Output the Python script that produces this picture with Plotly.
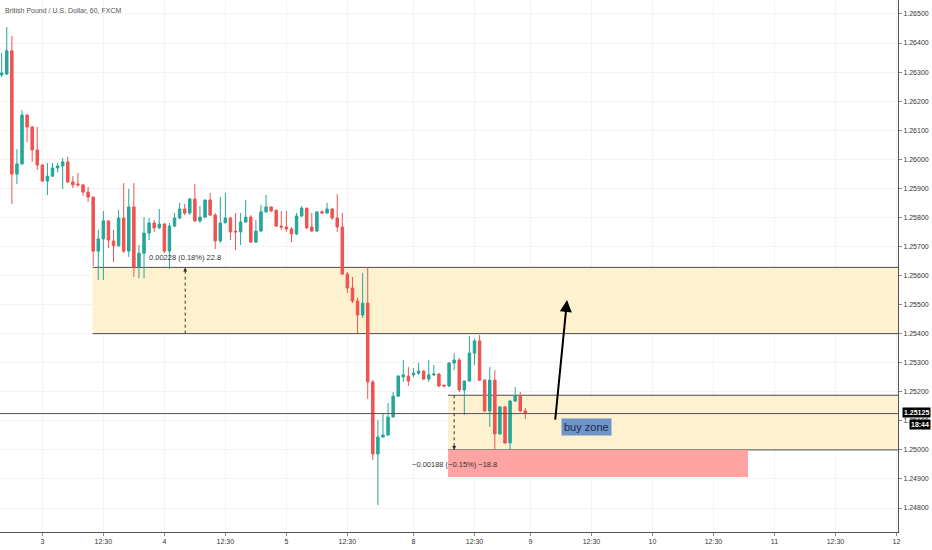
import plotly.graph_objects as go

# GBP/USD, 1h candles (FXCM)
opens = [1.26290, 1.26293, 1.26373, 1.25949, 1.25984, 1.26152, 1.26111, 1.26032, 1.25980, 1.25925,
         1.25942, 1.25970, 1.25977, 1.25991, 1.25922, 1.25915, 1.25912, 1.25887, 1.25870, 1.25684,
         1.25726, 1.25788, 1.25719, 1.25702, 1.25798, 1.25684, 1.25836, 1.25629, 1.25677, 1.25746,
         1.25781, 1.25764, 1.25777, 1.25684, 1.25770, 1.25798, 1.25829, 1.25815, 1.25863, 1.25788,
         1.25801, 1.25860, 1.25808, 1.25719, 1.25781, 1.25798, 1.25753, 1.25750, 1.25784, 1.25801,
         1.25715, 1.25753, 1.25819, 1.25836, 1.25825, 1.25770, 1.25767, 1.25760, 1.25743, 1.25805,
         1.25832, 1.25767, 1.25753, 1.25819, 1.25815, 1.25829, 1.25798, 1.25767, 1.25605, 1.25557,
         1.25512, 1.25464, 1.25505, 1.25234, 1.24986, 1.25044, 1.25051, 1.25113, 1.25185, 1.25251,
         1.25254, 1.25258, 1.25264, 1.25271, 1.25244, 1.25258, 1.25261, 1.25223, 1.25220, 1.25299,
         1.25309, 1.25206, 1.25237, 1.25333, 1.25375, 1.25240, 1.25134, 1.25240, 1.25055, 1.25148,
         1.25024, 1.25168, 1.25185, 1.25134]
highs = [1.26366, 1.26455, 1.26424, 1.26035, 1.26169, 1.26155, 1.26115, 1.26111, 1.25984, 1.25987,
         1.25987, 1.25987, 1.26004, 1.26008, 1.25942, 1.25953, 1.25912, 1.25905, 1.25870, 1.25757,
         1.25822, 1.25788, 1.25757, 1.25826, 1.25918, 1.25898, 1.25918, 1.25705, 1.25801, 1.25798,
         1.25791, 1.25829, 1.25781, 1.25781, 1.25815, 1.25850, 1.25846, 1.25867, 1.25915, 1.25839,
         1.25860, 1.25884, 1.25815, 1.25870, 1.25884, 1.25801, 1.25815, 1.25815, 1.25860, 1.25808,
         1.25791, 1.25843, 1.25877, 1.25836, 1.25825, 1.25822, 1.25822, 1.25767, 1.25815, 1.25839,
         1.25832, 1.25815, 1.25819, 1.25825, 1.25850, 1.25832, 1.25880, 1.25815, 1.25612, 1.25595,
         1.25523, 1.25609, 1.25629, 1.25240, 1.25103, 1.25127, 1.25161, 1.25199, 1.25258, 1.25309,
         1.25285, 1.25282, 1.25299, 1.25275, 1.25309, 1.25292, 1.25264, 1.25223, 1.25302, 1.25333,
         1.25316, 1.25237, 1.25392, 1.25382, 1.25395, 1.25244, 1.25285, 1.25275, 1.25151, 1.25151,
         1.25172, 1.25216, 1.25199, 1.25144]
lows = [1.26283, 1.26290, 1.25846, 1.25915, 1.25980, 1.26059, 1.25991, 1.25963, 1.25922, 1.25877,
        1.25939, 1.25956, 1.25898, 1.25918, 1.25901, 1.25905, 1.25874, 1.25853, 1.25633, 1.25585,
        1.25585, 1.25695, 1.25646, 1.25700, 1.25677, 1.25664, 1.25595, 1.25591, 1.25591, 1.25722,
        1.25750, 1.25760, 1.25677, 1.25622, 1.25767, 1.25794, 1.25808, 1.25808, 1.25784, 1.25781,
        1.25798, 1.25805, 1.25691, 1.25712, 1.25781, 1.25722, 1.25688, 1.25705, 1.25781, 1.25712,
        1.25712, 1.25750, 1.25815, 1.25819, 1.25767, 1.25757, 1.25750, 1.25715, 1.25739, 1.25801,
        1.25760, 1.25750, 1.25750, 1.25812, 1.25812, 1.25791, 1.25750, 1.25602, 1.25540, 1.25505,
        1.25402, 1.25454, 1.25175, 1.24965, 1.24810, 1.25044, 1.25048, 1.25113, 1.25182, 1.25234,
        1.25220, 1.25251, 1.25258, 1.25240, 1.25234, 1.25254, 1.25216, 1.25216, 1.25216, 1.25275,
        1.25199, 1.25120, 1.25234, 1.25292, 1.25237, 1.25130, 1.25079, 1.25000, 1.25051, 1.25020,
        1.25003, 1.25165, 1.25130, 1.25106]
closes = [1.26297, 1.26373, 1.25949, 1.25984, 1.26152, 1.26111, 1.26032, 1.25980, 1.25925, 1.25942,
          1.25970, 1.25977, 1.25991, 1.25922, 1.25912, 1.25912, 1.25887, 1.25870, 1.25684, 1.25726,
          1.25788, 1.25722, 1.25702, 1.25798, 1.25684, 1.25836, 1.25629, 1.25677, 1.25746, 1.25781,
          1.25764, 1.25777, 1.25684, 1.25770, 1.25798, 1.25829, 1.25815, 1.25863, 1.25788, 1.25801,
          1.25860, 1.25808, 1.25719, 1.25781, 1.25798, 1.25750, 1.25750, 1.25784, 1.25801, 1.25715,
          1.25753, 1.25819, 1.25836, 1.25822, 1.25770, 1.25767, 1.25760, 1.25743, 1.25805, 1.25832,
          1.25764, 1.25753, 1.25819, 1.25815, 1.25829, 1.25798, 1.25767, 1.25605, 1.25557, 1.25512,
          1.25464, 1.25505, 1.25234, 1.24986, 1.25044, 1.25051, 1.25113, 1.25185, 1.25254, 1.25258,
          1.25237, 1.25264, 1.25271, 1.25244, 1.25258, 1.25261, 1.25220, 1.25220, 1.25299, 1.25309,
          1.25206, 1.25237, 1.25333, 1.25375, 1.25240, 1.25134, 1.25240, 1.25055, 1.25148, 1.25024,
          1.25168, 1.25185, 1.25134, 1.25125]
bars = list(range(len(opens)))

# time axis (bar index -> label)
tick_pos = [8, 20, 32, 44, 56, 68, 81, 93, 104, 116, 128, 140, 152, 164, 176]
tick_txt = ['3', '12:30', '4', '12:30', '5', '12:30', '8', '12:30', '9', '12:30',
            '10', '12:30', '11', '12:30', '12']
price_ticks = [1.248, 1.249, 1.250, 1.251, 1.252, 1.253, 1.254, 1.255, 1.256, 1.257,
               1.258, 1.259, 1.260, 1.261, 1.262, 1.263, 1.264, 1.265]

# drawings
zone1 = [1.25400, 1.25628]
zone1_start = 17.9
zone2 = [1.25000, 1.25188]
zone2_start = 87.8
stop_zone = [1.24907, 1.25000]
stop_end = 146.8
last_price = 1.25125
arrow_from = [108.85, 1.25099]
arrow_to = [111.2, 1.25516]
buy_label = [114.95, 1.25079]

X_MIN, X_MAX = -0.33, 176.3
GREEN = '#26a69a'
RED = '#ef5350'
ZONE = '#fdf1cf'

fig = go.Figure()
fig.add_trace(go.Candlestick(
    x=bars, open=opens, high=highs, low=lows, close=closes,
    increasing=dict(line=dict(color=GREEN, width=1), fillcolor=GREEN),
    decreasing=dict(line=dict(color=RED, width=1), fillcolor=RED),
    whiskerwidth=0, showlegend=False, hoverinfo='skip'))

# yellow zones
for z, x0 in [(zone1, zone1_start), (zone2, zone2_start)]:
    fig.add_shape(type='rect', xref='x', yref='y', x0=x0, x1=X_MAX, y0=z[0], y1=z[1],
                  fillcolor=ZONE, line_width=0, layer='between')
    for lvl in z:
        fig.add_shape(type='line', xref='x', yref='y', x0=x0, x1=X_MAX, y0=lvl, y1=lvl,
                      line=dict(color='#4a4a4a', width=1), layer='between')

fig.add_shape(type='rect', xref='x', yref='y', x0=zone2_start, x1=stop_end,
              y0=stop_zone[0], y1=stop_zone[1], fillcolor='#ffa3a3', line_width=0, layer='between')

# current price line
fig.add_shape(type='line', xref='paper', yref='y', x0=0, x1=1, y0=last_price, y1=last_price,
              line=dict(color='#555555', width=1))

# measuring tools (dashed)
m1_x = 36.1
m2_x = 89.0
fig.add_shape(type='line', xref='x', yref='y', x0=m1_x, x1=m1_x, y0=zone1[0], y1=zone1[1],
              line=dict(color='#333333', width=1, dash='3px,3px'))
fig.add_shape(type='line', xref='x', yref='y', x0=m2_x, x1=m2_x, y0=zone2[1], y1=zone2[0],
              line=dict(color='#333333', width=1, dash='3px,3px'))
fig.add_annotation(x=m1_x, y=zone1[1], ax=0, ay=6, text='', showarrow=True,
                   arrowhead=2, arrowsize=0.8, arrowwidth=1, arrowcolor='#333333')
fig.add_annotation(x=m2_x, y=zone2[0], ax=0, ay=-6, text='', showarrow=True,
                   arrowhead=2, arrowsize=0.8, arrowwidth=1, arrowcolor='#333333')
fig.add_annotation(x=m1_x, y=zone1[1], text='0.00228 (0.18%) 22.8', showarrow=False,
                   yanchor='bottom', yshift=3, font=dict(size=7.5, color='#333333'))
fig.add_annotation(x=m2_x, y=zone2[0], text='\u22120.00188 (\u22120.15%) \u221218.8', showarrow=False,
                   yanchor='top', yshift=-8, font=dict(size=7.5, color='#333333'))

# arrow + label
fig.add_annotation(x=arrow_to[0], y=arrow_to[1], ax=arrow_from[0], ay=arrow_from[1],
                   axref='x', ayref='y', text='', showarrow=True,
                   arrowhead=2, arrowsize=1.2, arrowwidth=2, arrowcolor='#000000')
fig.add_annotation(x=buy_label[0], y=buy_label[1], text='buy zone', showarrow=False,
                   bgcolor='#6f94c9', borderpad=2, font=dict(size=11, color='#1b2a4a'))

# title
fig.add_annotation(xref='paper', yref='paper', x=0, y=1, xanchor='left', yanchor='top',
                   xshift=3, yshift=-5, text='British Pound / U.S. Dollar, 60, FXCM',
                   showarrow=False, font=dict(size=7, color='#555555'))

# last price tags on the axis
fig.add_annotation(xref='paper', yref='y', x=1, y=last_price, xanchor='left', xshift=4,
                   yshift=1, text='<b>1.25125</b>', showarrow=False, bgcolor='#000000',
                   borderpad=1, font=dict(size=7, color='#ffffff'))
fig.add_annotation(xref='paper', yref='y', x=1, y=last_price, xanchor='left', xshift=11,
                   yshift=-11, text='<b>18:44</b>', showarrow=False, bgcolor='#000000',
                   borderpad=1, font=dict(size=7, color='#ffffff'))

fig.update_xaxes(range=[X_MIN, X_MAX], tickvals=tick_pos, ticktext=tick_txt,
                 rangeslider_visible=False, showgrid=True, gridcolor='#f3f3f3',
                 showline=True, linecolor='#555555', linewidth=1, ticks='outside',
                 ticklen=3, tickcolor='#888888', tickfont=dict(size=7, color='#333333'),
                 zeroline=False)
fig.update_yaxes(range=[1.247175, 1.26548], side='right', tickvals=price_ticks,
                 tickformat='.5f', showgrid=True, gridcolor='#f3f3f3',
                 showline=True, linecolor='#555555', linewidth=1, ticks='outside',
                 ticklen=3, tickcolor='#888888', tickfont=dict(size=7, color='#333333'),
                 zeroline=False)
fig.update_layout(width=932, height=550, margin=dict(l=0, r=34, t=0, b=18),
                  paper_bgcolor='white', plot_bgcolor='white',
                  font=dict(family='Liberation Sans, Arial, sans-serif'),
                  showlegend=False)
# page body has a default margin, drop it so the figure sits at the window corner
fig.write_html('out.html', config={'displayModeBar': False},
               post_script="document.body.style.margin='0';")
